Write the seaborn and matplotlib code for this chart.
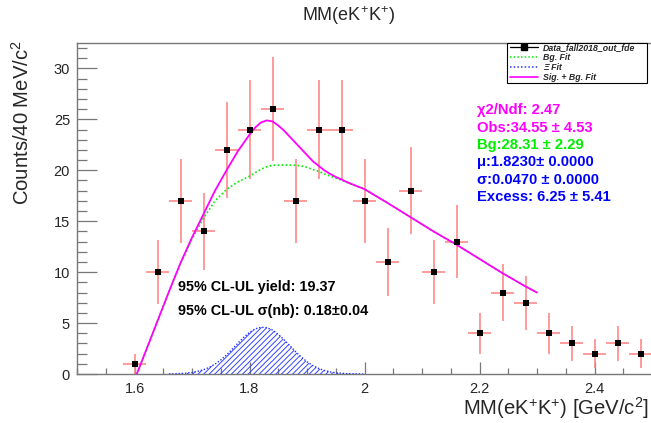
import matplotlib
matplotlib.use("Agg")
import matplotlib.pyplot as plt
import seaborn as sns
import pandas as pd
from matplotlib.ticker import MultipleLocator, FixedLocator, FixedFormatter
from matplotlib.patches import Rectangle
from matplotlib.lines import Line2D

# ---------------- data ----------------
mass = [1.60, 1.64, 1.68, 1.72, 1.76, 1.80, 1.84, 1.88, 1.92, 1.96, 2.00, 2.04,
        2.08, 2.12, 2.16, 2.20, 2.24, 2.28, 2.32, 2.36, 2.40, 2.44, 2.48]
counts = [1, 10, 17, 14, 22, 24, 26, 17, 24, 24, 17, 11,
          18, 10, 13, 4, 8, 7, 4, 3, 2, 3, 2]
count_err = [1.0, 3.16, 4.12, 3.74, 4.69, 4.90, 5.10, 4.12, 4.90, 4.90, 4.12, 3.32,
             4.24, 3.16, 3.61, 2.0, 2.83, 2.65, 2.0, 1.73, 1.41, 1.73, 1.41]
bin_width = 0.04

fit_x = [1.604, 1.62, 1.64, 1.66, 1.68, 1.70, 1.72, 1.74, 1.76, 1.78, 1.80, 1.81,
         1.82, 1.83, 1.84, 1.85, 1.86, 1.87, 1.88, 1.89, 1.90, 1.91, 1.92, 1.93,
         1.94, 1.95, 1.96, 1.97, 1.98, 1.99, 2.00, 2.04, 2.08, 2.12, 2.16, 2.20,
         2.24, 2.28, 2.30]
total_fit = [0.0, 2.3, 5.2, 8.1, 10.9, 13.4, 15.7, 18.0, 20.0, 21.9, 23.5, 24.2,
             24.7, 24.9, 24.8, 24.4, 23.9, 23.3, 22.7, 22.1, 21.5, 20.9, 20.45, 20.0,
             19.65, 19.35, 19.1, 18.83, 18.6, 18.37, 18.15, 16.8, 15.4, 14.0, 12.7, 11.3,
             9.9, 8.6, 8.0]
bg_fit = [0.0, 2.3, 5.2, 8.1, 10.85, 13.25, 15.3, 17.0, 18.13, 18.87, 19.42, 19.77,
          20.11, 20.35, 20.49, 20.5, 20.53, 20.51, 20.5, 20.43, 20.3, 20.07, 19.9, 19.65,
          19.44, 19.23, 19.03, 18.8, 18.58, 18.36, 18.15, 16.8, 15.4, 14.0, 12.7, 11.3,
          9.9, 8.6, 8.0]

sig_x = [1.66, 1.67, 1.68, 1.69, 1.70, 1.71, 1.72, 1.73, 1.74, 1.75, 1.76, 1.77,
         1.78, 1.79, 1.80, 1.81, 1.82, 1.83, 1.84, 1.85, 1.86, 1.87, 1.88, 1.89,
         1.90, 1.91, 1.92, 1.93, 1.94, 1.95, 1.96, 1.97, 1.98, 1.99, 2.00]
sig_y = [0.01, 0.02, 0.05, 0.08, 0.15, 0.26, 0.42, 0.65, 0.97, 1.38, 1.87, 2.44,
         3.03, 3.60, 4.08, 4.43, 4.59, 4.55, 4.31, 3.90, 3.37, 2.79, 2.20, 1.67,
         1.20, 0.83, 0.55, 0.35, 0.21, 0.12, 0.07, 0.035, 0.02, 0.01, 0.0]

x_ticks = [1.6, 1.8, 2.0, 2.2, 2.4]
x_tick_labels = ["1.6", "1.8", "2", "2.2", "2.4"]
y_ticks = [0, 5, 10, 15, 20, 25, 30]

legend_labels = ["Data_fall2018_out_fde", "Bg. Fit", "\u039e Fit", "Sig. + Bg. Fit"]
stats_lines = ["\u03c72/Ndf: 2.47", "Obs:34.55 \u00b1 4.53", "Bg:28.31 \u00b1 2.29",
               "\u03bc:1.8230\u00b1 0.0000", "\u03c3:0.0470 \u00b1 0.0000",
               "Excess: 6.25 \u00b1 5.41"]
stats_colors = ["#ff00ff", "#ff00ff", "#00ee00", "#0000ff", "#0000ff", "#0000ff"]
ul_lines = ["95% CL-UL yield: 19.37", "95% CL-UL \u03c3(nb): 0.18\u00b10.04"]

# ---------------- style ----------------
sns.set_theme(style="white")
plt.rcParams["font.family"] = ["Liberation Sans", "DejaVu Sans"]
plt.rcParams["mathtext.fontset"] = "custom"
plt.rcParams["mathtext.rm"] = "Liberation Sans"
plt.rcParams["mathtext.it"] = "Liberation Sans:italic"
plt.rcParams["hatch.linewidth"] = 0.7

W, H = 651, 423
fig = plt.figure(figsize=(W / 100, H / 100), dpi=100)
fig.patch.set_facecolor("white")
ax = fig.add_axes([77 / W, 1 - 374 / H, 575 / W, 331 / H])
ax.set_facecolor("white")

df = pd.DataFrame({"mass": mass, "counts": counts, "err": count_err})
fit_df = pd.DataFrame({"x": fit_x, "total": total_fit, "bg": bg_fit})
sig_df = pd.DataFrame({"x": sig_x, "y": sig_y})

# error bars
ax.errorbar(df["mass"], df["counts"], yerr=df["err"], xerr=bin_width / 2,
            fmt="none", ecolor="#ff7f7f", elinewidth=1.1, capsize=0, zorder=2)
# markers
sns.scatterplot(data=df, x="mass", y="counts", marker="s", s=16, color="black",
                edgecolor="black", linewidth=0, ax=ax, zorder=5, legend=False)

# signal (Xi) fit hatched
ax.fill_between(sig_df["x"], 0, sig_df["y"], facecolor="none", edgecolor="#3344ff",
                hatch="//////", linewidth=0, zorder=3)
sns.lineplot(data=sig_df, x="x", y="y", color="#2233ff", lw=1.0, ls=(0, (1, 1.3)),
             estimator=None, sort=False, ax=ax, zorder=3, legend=False)

# background fit
sns.lineplot(data=fit_df, x="x", y="bg", color="#00ee00", lw=1.2, ls=(0, (1, 1.4)),
             estimator=None, sort=False, ax=ax, zorder=4, legend=False)
# total fit
sns.lineplot(data=fit_df, x="x", y="total", color="#ff00ff", lw=1.3,
             estimator=None, sort=False, ax=ax, zorder=4, legend=False)

# axes
ax.set_xlim(1.5, 2.5)
ax.set_ylim(0, 32.5)
ax.xaxis.set_major_locator(FixedLocator(x_ticks))
ax.xaxis.set_major_formatter(FixedFormatter(x_tick_labels))
ax.xaxis.set_minor_locator(MultipleLocator(0.05))
ax.yaxis.set_major_locator(FixedLocator(y_ticks))
ax.yaxis.set_minor_locator(MultipleLocator(1))
frame_col = "#777777"
for side in ["left", "bottom", "top"]:
    ax.spines[side].set_color(frame_col)
    ax.spines[side].set_linewidth(1.0)
    ax.spines[side].set_visible(True)
ax.spines["right"].set_visible(False)
ax.tick_params(axis="x", which="major", direction="in", length=8.5, width=0.9,
               color=frame_col, labelsize=10.5, pad=6, bottom=True, top=False)
ax.tick_params(axis="x", which="minor", direction="in", length=4.3, width=0.9,
               color=frame_col, bottom=True, top=False)
ax.tick_params(axis="y", which="major", direction="in", length=14.5, width=0.9,
               color=frame_col, labelsize=10.5, pad=5, left=True, right=False)
ax.tick_params(axis="y", which="minor", direction="in", length=7.2, width=0.9,
               color=frame_col, left=True, right=False)
ax.set_xlabel("")
ax.set_ylabel("")

# titles / axis labels
fig.text(348 / W, 1 - 16 / H, "MM(eK$^{+}$K$^{+}$)", ha="center", va="center",
         fontsize=13)
fig.text(649 / W, 1 - 408 / H, "MM(eK$^{+}$K$^{+}$) [GeV/c$^{2}$]", ha="right",
         va="center", fontsize=14.6)
fig.text(22 / W, 1 - 40 / H, "Counts/40 MeV/c$^{2}$", ha="center", va="top",
         rotation=90, fontsize=14.6)

# stats box text
stat_y = [110, 127.5, 145, 162, 179.5, 197]
for txt, col, yy in zip(stats_lines, stats_colors, stat_y):
    fig.text(477 / W, 1 - yy / H, txt, color=col, fontsize=10.6, fontweight="bold",
             ha="left", va="center")

for txt, yy in zip(ul_lines, [287, 311]):
    fig.text(178 / W, 1 - yy / H, txt, color="black", fontsize=10.4,
             fontweight="bold", ha="left", va="center")

# legend (drawn manually, ROOT-like)
lx0, lx1, ly0, ly1 = 507, 647, 43, 83
fig.add_artist(Rectangle((lx0 / W, 1 - ly1 / H), (lx1 - lx0) / W, (ly1 - ly0) / H,
                         transform=fig.transFigure, facecolor="white",
                         edgecolor="black", lw=0.8, zorder=10))
row_y = [47.5, 57.5, 67.5, 77]
styles = [dict(color="black", lw=0.9, ls="-"),
          dict(color="#00ee00", lw=1.1, ls=(0, (1, 1.4))),
          dict(color="#2233ff", lw=1.1, ls=(0, (1, 1.4))),
          dict(color="#ff00ff", lw=1.2, ls="-")]
for lab, st, yy in zip(legend_labels, styles, row_y):
    fy = 1 - yy / H
    fig.add_artist(Line2D([510 / W, 538 / W], [fy, fy], transform=fig.transFigure,
                          zorder=11, **st))
    fig.text(543 / W, fy, lab, fontsize=6.3, fontweight="bold", fontstyle="italic",
             ha="left", va="center", zorder=11)
fig.add_artist(Line2D([524 / W], [1 - row_y[0] / H], transform=fig.transFigure,
                      marker="s", markersize=3.8, color="black", zorder=12))

fig.savefig("out.png", dpi=100, facecolor="white")
